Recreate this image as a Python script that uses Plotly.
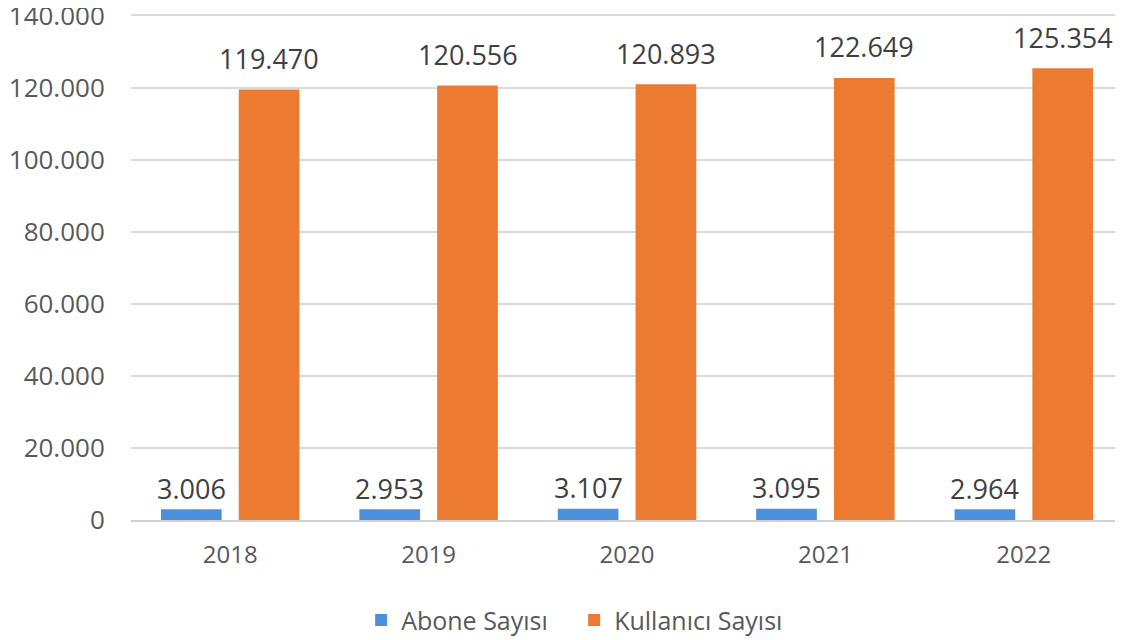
import plotly.graph_objects as go

years = ["2018", "2019", "2020", "2021", "2022"]
abone = [3006, 2953, 3107, 3095, 2964]
kullanici = [119470, 120556, 120893, 122649, 125354]
abone_labels = ["3.006", "2.953", "3.107", "3.095", "2.964"]
kullanici_labels = ["119.470", "120.556", "120.893", "122.649", "125.354"]
y_ticks = [0, 20000, 40000, 60000, 80000, 100000, 120000, 140000]
y_tick_labels = ["0", "20.000", "40.000", "60.000", "80.000", "100.000", "120.000", "140.000"]

FONT = "Open Sans"
BLUE = "#4A90DA"
ORANGE = "#EC7A30"

fig = go.Figure()
fig.add_trace(go.Bar(name="Abone Sayısı", x=years, y=abone, marker=dict(color=BLUE, line=dict(width=0))))
fig.add_trace(go.Bar(name="Kullanıcı Sayısı", x=years, y=kullanici, marker=dict(color=ORANGE, line=dict(width=0))))

annotations = []
# category index positions (numeric-looking category names would otherwise be read as indices)
for i, (v, t) in enumerate(zip(abone, abone_labels)):
    annotations.append(dict(x=i, y=v, xref="x", yref="y", text=t, showarrow=False,
                            xshift=-39, yshift=21, yanchor="middle",
                            font=dict(family=FONT, size=27, color="#404040")))
for i, (v, t) in enumerate(zip(kullanici, kullanici_labels)):
    annotations.append(dict(x=i, y=v, xref="x", yref="y", text=t, showarrow=False,
                            xshift=39, yshift=31, yanchor="middle",
                            font=dict(family=FONT, size=27, color="#404040")))

# the page body adds an 8px margin, so the figure is sized 8px smaller
fig.update_layout(
    width=1115, height=632,
    margin=dict(l=123, r=0, t=6, b=120, autoexpand=False),
    paper_bgcolor="white", plot_bgcolor="white",
    barmode="group", bargap=0.216, bargroupgap=0.22,
    font=dict(family=FONT, color="#595959", size=25),
    annotations=annotations,
    showlegend=True,
    legend=dict(orientation="h", x=0.232, xanchor="left", entrywidth=168, entrywidthmode="pixels",
                y=-0.198, yanchor="middle", font=dict(family=FONT, size=25, color="#595959")),
    xaxis=dict(type="category", range=[-0.5, len(years) - 0.5], showgrid=False,
               showline=True, linecolor="#D0D0D0", linewidth=1.5, automargin=False,
               ticks="outside", ticklen=12, tickcolor="rgba(0,0,0,0)",
               tickfont=dict(family=FONT, size=24, color="#595959")),
    yaxis=dict(range=[0, 140400], tickvals=y_ticks, ticktext=y_tick_labels,
               showgrid=True, gridcolor="#D9D9D9", gridwidth=1.5, zeroline=False,
               showline=False, automargin=False, ticklabeloverflow="allow",
               ticks="outside", ticklen=20, tickcolor="rgba(0,0,0,0)",
               tickfont=dict(family=FONT, size=26, color="#595959")),
)

fig.write_html("out.html")
